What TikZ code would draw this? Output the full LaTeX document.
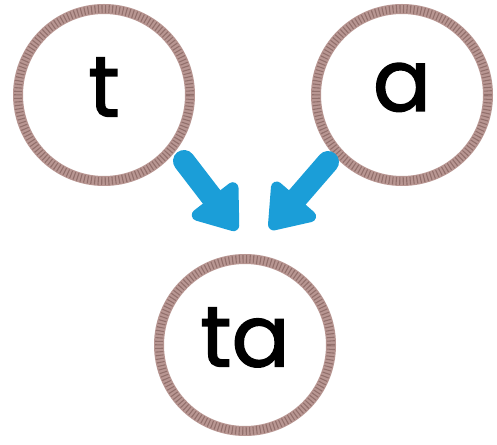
\documentclass[tikz,border=0pt]{standalone}
\usepackage{fontspec}
\newfontfamily\letterfont{Poppins}[FakeBold=1.6]
\usetikzlibrary{arrows.meta}
\definecolor{ropebrown}{RGB}{184,150,146}
\definecolor{ropedark}{RGB}{146,112,108}
\definecolor{arrowblue}{RGB}{27,158,216}
\begin{document}
\begin{tikzpicture}[x=1pt,y=1pt,
    rope/.style={circle, draw=ropebrown, line width=10pt, minimum size=172pt, inner sep=0pt,
      font=\letterfont\fontsize{86}{86}\selectfont, text depth=16pt,
      postaction={draw=ropedark, line width=8pt, dash pattern=on 1.1pt off 2.4pt}},
    bluearrow/.style={draw=arrowblue, line width=22pt, line cap=round,
      -{Triangle[length=46pt,width=64pt,round]}}]
\useasboundingbox (0,0) rectangle (497,444);
{
% Marking letter t by circle
\node [rope] (t) at (104,349) {t};%

% Marking letter a by circle
\node [rope] (a) at (402,349) {a};%

% Marking syllable ta by circle
\node [rope] (ta) at (245,99) {ta};%

% Drawing arrow t ta
\draw [bluearrow] ([shift={(80,-66)}]t.center) -- ([shift={(-8,115)}]ta.center);%

% Drawing arrow a ta
\draw [bluearrow] ([shift={(-74,-67)}]a.center) -- ([shift={(25,116)}]ta.center);%
}
\end{tikzpicture}
\end{document}
